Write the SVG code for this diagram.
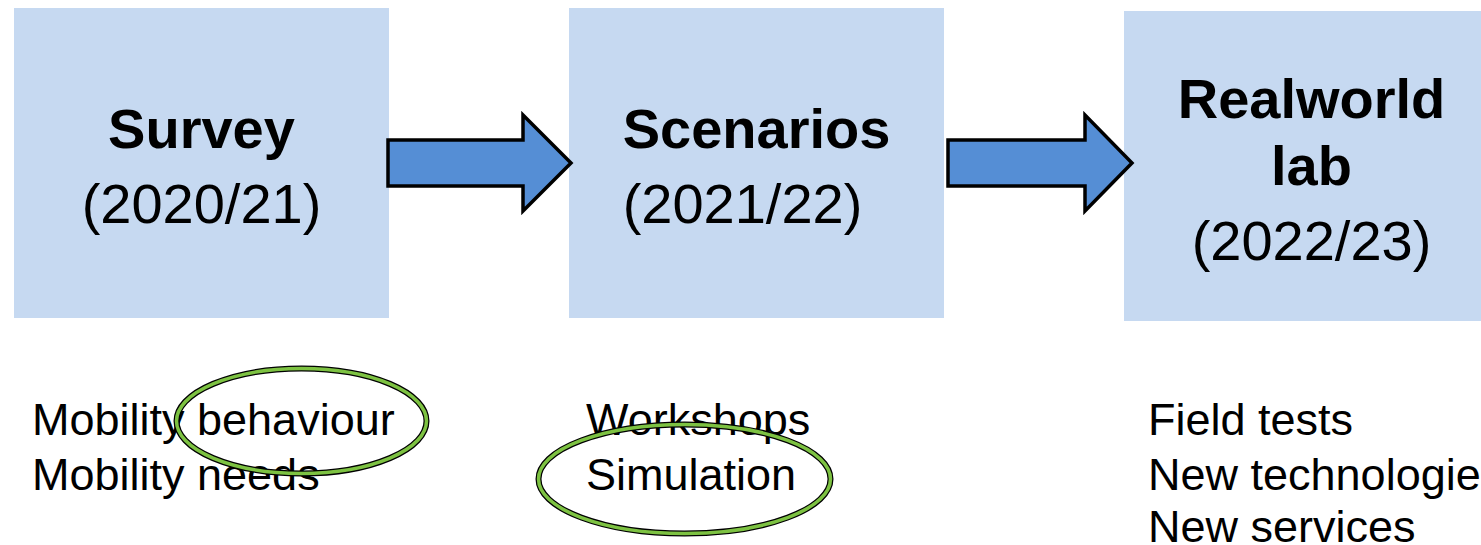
<svg xmlns="http://www.w3.org/2000/svg" width="1481" height="545" viewBox="0 0 1481 545">
  <style>
    .box { fill: #C6D9F1; }
    .title { font-family: "Liberation Sans", Arial, sans-serif; font-size: 56px; font-weight: bold; fill: #000; text-anchor: middle; }
    .date { font-family: "Liberation Sans", Arial, sans-serif; font-size: 56px; fill: #000; text-anchor: middle; }
    .item { font-family: "Liberation Sans", Arial, sans-serif; font-size: 45px; fill: #000; }
    .arrow { fill: #558ED5; stroke: #000; stroke-width: 3.5; stroke-linejoin: miter; }
    .ring-outer { fill: none; stroke: #000; stroke-width: 6; }
    .ring-inner { fill: none; stroke: #7DC242; stroke-width: 3.5; }
  </style>
  <rect width="1481" height="545" fill="#fff"/>

  <g id="survey">
    <rect class="box" x="14" y="8" width="375" height="310"/>
    <text class="title" x="201.5" y="148">Survey</text>
    <text class="date" x="201.5" y="223">(2020/21)</text>
  </g>

  <g id="scenarios">
    <rect class="box" x="569" y="8" width="375" height="310"/>
    <text class="title" x="756.5" y="148">Scenarios</text>
    <text class="date" x="742.5" y="223">(2021/22)</text>
  </g>

  <g id="realworld-lab">
    <rect class="box" x="1124" y="11" width="375" height="310"/>
    <text class="title" x="1311.5" y="118">Realworld</text>
    <text class="title" x="1311.5" y="185">lab</text>
    <text class="date" x="1311.5" y="260">(2022/23)</text>
  </g>

  <g id="connectors">
    <path class="arrow" d="M388,140 H523 V115 L571,163 L523,211 V186 H388 Z"/>
    <path class="arrow" d="M948,140 H1085 V115 L1132,163 L1085,211 V186 H948 Z"/>
  </g>

  <g id="survey-topics">
    <text class="item" x="32" y="435">Mobility behaviour</text>
    <text class="item" x="32" y="490">Mobility needs</text>
  </g>

  <g id="scenario-topics">
    <text class="item" x="586" y="435">Workshops</text>
    <text class="item" x="586" y="490">Simulation</text>
  </g>

  <g id="lab-topics">
    <text class="item" x="1148" y="435">Field tests</text>
    <text class="item" x="1148" y="490">New technologie</text>
    <text class="item" x="1148" y="542">New services</text>
  </g>

  <g id="highlights">
    <ellipse class="ring-outer" cx="301.5" cy="421" rx="125" ry="52.5"/>
    <ellipse class="ring-inner" cx="301.5" cy="421" rx="125" ry="52.5"/>
    <ellipse class="ring-outer" cx="684.5" cy="479" rx="146" ry="54.5"/>
    <ellipse class="ring-inner" cx="684.5" cy="479" rx="146" ry="54.5"/>
  </g>
</svg>
